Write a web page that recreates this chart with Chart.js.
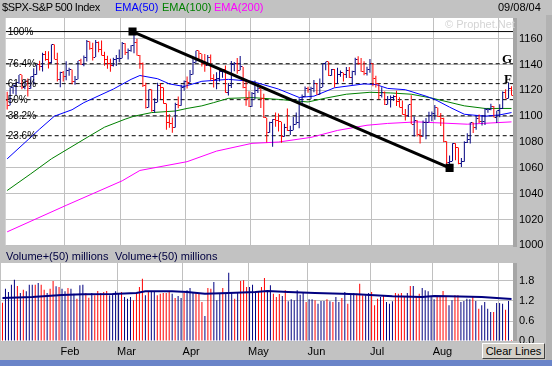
<!DOCTYPE html>
<html><head><meta charset="utf-8">
<script src="https://cdn.jsdelivr.net/npm/chart.js@4.4.1/dist/chart.umd.min.js"></script>
<style>
html,body{margin:0;padding:0}
body{width:552px;height:366px;background:#c2c2c2;position:relative;overflow:hidden;font-family:"Liberation Sans",Arial,sans-serif;font-size:11px}
canvas{position:absolute;left:0}
#pc{top:0}
#vc{top:250px}
.t{position:absolute;white-space:nowrap;line-height:14px;z-index:5}
.s{position:absolute;background:#a6a6a6;z-index:1}
#btn{position:absolute;left:482px;top:343px;width:61px;height:14px;border:1px solid;border-color:#fff #404040 #404040 #fff;background:#d4d0c8;text-align:center;line-height:14px;z-index:6;font-size:11px;color:#000}
#strip{position:absolute;left:0;top:360px;width:552px;height:6px;background:#6a84c8;z-index:6}
</style></head><body>
<div class="s" style="left:513px;top:18px;width:4px;height:229px"></div>
<div class="s" style="left:513px;top:263px;width:4px;height:78px"></div>
<div class="s" style="left:546px;top:15px;width:6px;height:345px;background:#b2b2b2"></div>
<canvas id="pc" width="552" height="258" style="z-index:2"></canvas>
<canvas id="vc" width="552" height="112" style="z-index:2"></canvas>
<div class="t" style="left:2px;top:0;letter-spacing:-0.4px">$SPX-S&amp;P 500 Index</div>
<div class="t" style="left:115px;top:0;color:#0000ff">EMA(50)</div>
<div class="t" style="left:162px;top:0;color:#008000">EMA(100)</div>
<div class="t" style="left:214px;top:0;color:#ff00ff">EMA(200)</div>
<div class="t" style="left:498px;top:0">09/08/04</div>
<div class="t" style="left:445px;top:17px;color:#d4d4d4">&copy; Prophet.Net</div>
<div class="t" style="left:6px;top:249px;color:#000040">Volume+(50) millions</div>
<div class="t" style="left:115px;top:249px;color:#000040">Volume+(50) millions</div>
<div id="btn">Clear Lines</div>
<div id="strip"></div>
<script>
// ---- data (trading-day index 0 = 2 Jan 2004 ... 171 = 8 Sep 2004) ----
const monthTicks = [19.5, 38.5, 60.5, 82.5, 102.5, 123.5, 144.5, 166.5];
const monthLabels = ['Feb','Mar','Apr','May','Jun','Jul','Aug','Sep'];
const priceTicks = [1000,1020,1040,1060,1080,1100,1120,1140,1160];
const volTicks = [0, 0.6, 1.2, 1.8];

const opens = [1111.9,1108.5,1122.2,1123.7,1126.3,1131.9,1121.9,1127.2,1121.2,1130.5,1132.1,1139.8,1138.8,1147.6,1143.9,1141.6,1155.4,1144.1,1128.5,1134.1,
1131.1,1135.3,1136.0,1126.5,1128.6,1142.8,1139.8,1145.5,1157.8,1152.1,1145.8,1157.0,1151.8,1147.1,1144.1,1141.0,1139.1,1143.7,1144.9,
1144.9,1156.0,1149.1,1151.0,1154.9,1156.9,1147.2,1140.6,1123.9,1106.8,1120.6,1104.5,1110.7,1123.8,1122.3,1109.8,1095.4,1094.0,1091.3,1109.2,1108.1,1122.5,1127.0,
1126.2,1132.2,1141.8,1150.6,1148.2,1140.5,1139.3,1145.2,1129.4,1128.2,1128.8,1134.6,1135.8,1118.2,1124.1,1139.9,1140.6,1135.5,1138.1,1122.4,1113.9,
1107.3,1117.5,1119.6,1121.5,1114.0,1098.7,1087.1,1095.5,1097.3,1096.4,1095.7,1084.1,1091.5,1088.7,1089.2,1093.6,1095.4,1113.1,1114.9,1121.3,
1120.7,1121.2,1125.0,1116.6,1122.5,1140.4,1142.2,1131.3,1136.5,1125.3,1132.0,1133.6,1132.1,1135.0,1130.3,1134.4,1144.1,1140.7,1134.4,1133.4,1136.2,
1140.8,1128.9,1125.4,1116.2,1118.3,1109.1,1112.8,1114.4,1115.1,1111.5,1106.7,1101.4,1100.9,1108.7,1093.9,1096.8,1086.2,1084.1,1094.8,1095.4,1100.4,
1101.7,1106.6,1099.7,1098.6,1080.7,1064.0,1065.2,1079.0,1075.8,1063.2,1064.8,1079.3,1081.7,1095.2,1091.2,1098.4,1095.7,1096.2,1105.0,1105.1,1107.8,1099.2,
1104.2,1105.9,1118.3,1113.6,1121.3];
const highs = [1118.9,1122.2,1124.5,1126.3,1131.9,1131.9,1127.9,1129.1,1130.7,1137.1,1139.8,1142.9,1149.2,1150.5,1150.3,1155.4,1155.4,1149.1,1134.4,1135.0,
1142.5,1137.4,1136.0,1131.2,1142.8,1144.5,1147.0,1158.9,1157.8,1156.9,1158.9,1157.8,1158.6,1149.8,1146.7,1144.5,1145.2,1147.4,1151.7,
1157.5,1156.5,1152.4,1154.9,1164.5,1159.9,1147.3,1141.5,1125.9,1120.6,1120.6,1113.8,1125.8,1125.5,1122.3,1109.8,1101.5,1098.9,1110.4,1115.3,1124.4,1127.6,1130.8,
1135.7,1144.8,1150.6,1150.6,1148.2,1148.1,1147.3,1147.8,1132.5,1134.1,1136.8,1136.2,1139.3,1125.7,1142.8,1141.9,1145.1,1146.6,1138.1,1128.8,1119.3,
1118.7,1127.7,1125.1,1121.5,1117.3,1098.7,1095.7,1097.6,1102.8,1102.1,1095.7,1094.1,1105.9,1092.6,1099.6,1102.8,1113.8,1116.7,1123.0,1122.7,
1122.7,1128.1,1125.3,1129.2,1140.5,1142.2,1142.2,1136.5,1136.5,1137.4,1135.3,1133.6,1138.0,1138.0,1135.1,1145.2,1146.3,1145.0,1142.6,1138.3,1144.2,
1140.8,1131.4,1125.4,1122.4,1119.1,1115.6,1116.1,1116.3,1119.6,1114.6,1112.2,1105.5,1108.9,1116.3,1099.7,1096.8,1089.8,1096.7,1098.6,1103.5,1103.7,
1108.6,1106.6,1102.5,1098.8,1080.7,1069.5,1079.0,1079.0,1075.8,1067.6,1080.7,1086.8,1095.2,1095.2,1100.3,1101.4,1100.9,1106.3,1106.3,1109.7,1107.8,1104.2,
1109.2,1119.1,1120.8,1126.0,1123.1];
const lows = [1105.1,1108.5,1117.4,1116.5,1124.9,1120.9,1120.9,1115.2,1121.2,1124.5,1132.1,1135.4,1134.6,1143.0,1136.9,1141.0,1144.1,1126.9,1122.4,1126.8,
1127.9,1131.3,1124.7,1124.4,1128.6,1139.8,1138.7,1142.3,1151.4,1143.2,1145.8,1149.5,1146.9,1139.0,1136.7,1134.4,1138.5,1138.8,1141.8,
1144.9,1147.3,1143.8,1149.8,1148.8,1146.9,1136.8,1122.5,1105.9,1106.8,1103.4,1102.6,1110.7,1113.3,1109.7,1089.5,1091.1,1087.2,1091.3,1106.1,1108.1,1119.7,1121.5,
1126.2,1132.2,1141.6,1143.3,1138.4,1134.4,1139.3,1127.7,1122.2,1120.8,1126.9,1129.8,1118.1,1116.0,1121.9,1134.8,1132.9,1135.5,1121.7,1108.0,1107.2,
1107.3,1112.9,1117.9,1106.3,1098.6,1079.6,1087.1,1076.3,1091.8,1088.2,1079.4,1084.1,1088.5,1085.4,1089.2,1093.6,1090.7,1109.9,1114.9,1118.1,
1113.3,1118.6,1116.6,1116.6,1122.5,1135.5,1131.2,1131.3,1122.2,1125.3,1130.5,1126.9,1129.6,1129.6,1124.4,1131.7,1139.8,1134.4,1131.7,1131.5,1133.6,
1123.1,1122.2,1113.2,1114.5,1108.7,1109.1,1106.7,1112.0,1107.8,1106.7,1101.1,1096.6,1099.3,1093.9,1084.2,1084.3,1078.8,1084.1,1082.2,1095.4,1096.0,
1097.3,1099.3,1092.4,1079.9,1062.2,1063.0,1065.2,1065.9,1062.8,1060.7,1064.8,1079.3,1078.9,1086.9,1089.6,1094.7,1092.8,1093.2,1102.6,1104.6,1099.2,1094.7,
1099.2,1105.6,1113.6,1113.6,1116.0];
const closes = [1108.5,1122.2,1123.7,1126.3,1131.9,1121.9,1127.2,1121.2,1130.5,1132.1,1139.8,1138.8,1147.6,1143.9,1141.6,1155.4,1144.1,1128.5,1134.1,1131.1,
1135.3,1136.0,1126.5,1128.6,1142.8,1139.8,1145.5,1157.8,1152.1,1145.8,1157.0,1151.8,1147.1,1144.1,1141.0,1139.1,1143.7,1144.9,1144.9,
1156.0,1149.1,1151.0,1154.9,1156.9,1147.2,1140.6,1123.9,1106.8,1120.6,1104.5,1110.7,1123.8,1122.3,1109.8,1095.4,1094.0,1091.3,1109.2,1108.1,1122.5,1127.0,1126.2,
1132.2,1141.8,1150.6,1148.2,1140.5,1139.3,1145.2,1129.4,1128.2,1128.8,1134.6,1135.8,1118.2,1124.1,1139.9,1140.6,1135.5,1138.1,1122.4,1113.9,1107.3,
1117.5,1119.6,1121.5,1114.0,1098.7,1087.1,1095.5,1097.3,1096.4,1095.7,1084.1,1091.5,1088.7,1089.2,1093.6,1095.4,1113.1,1114.9,1121.3,1120.7,
1121.2,1125.0,1116.6,1122.5,1140.4,1142.2,1131.3,1136.5,1125.3,1132.0,1133.6,1132.1,1135.0,1130.3,1134.4,1144.1,1140.7,1134.4,1133.4,1136.2,1140.8,
1128.9,1125.4,1116.2,1118.3,1109.1,1112.8,1114.4,1115.1,1111.5,1106.7,1101.4,1100.9,1108.7,1093.9,1096.8,1086.2,1084.1,1094.8,1095.4,1100.4,1101.7,
1106.6,1099.7,1098.6,1080.7,1064.0,1065.2,1079.0,1075.8,1063.2,1064.8,1079.3,1081.7,1095.2,1091.2,1098.4,1095.7,1096.2,1105.0,1105.1,1107.8,1099.2,1104.2,
1105.9,1118.3,1113.6,1121.3,1116.3];
const volumes = [1.15,1.57,1.47,1.69,1.84,1.65,1.44,1.54,1.49,1.69,1.69,1.69,1.74,1.69,1.54,1.44,1.57,1.80,1.64,1.62,
1.57,1.49,1.59,1.57,1.42,1.27,1.67,1.69,1.44,1.30,1.44,1.37,1.50,1.44,1.47,1.50,1.37,1.42,1.49,
1.44,1.47,1.32,1.27,1.32,1.22,1.44,1.62,1.87,1.37,1.47,1.47,1.47,1.37,1.42,1.44,1.44,1.49,1.42,
1.29,1.35,1.29,1.44,1.52,1.59,1.44,1.44,1.44,1.17,0.75,1.59,1.57,1.77,1.22,1.42,1.59,1.45,2.05,
1.45,1.27,1.45,1.80,1.82,1.62,1.62,1.69,1.49,
1.49,1.62,1.89,1.49,1.67,1.42,1.32,1.41,1.35,1.52,1.19,1.25,1.22,1.52,1.39,1.45,1.17,1.25,1.25,1.22,
1.12,1.20,1.20,1.25,1.19,1.17,1.32,1.17,1.29,1.47,1.12,1.39,1.44,1.42,1.72,1.37,1.37,1.44,1.47,1.07,
1.27,1.32,1.37,1.17,1.12,1.19,1.44,1.42,1.44,1.32,1.44,1.65,1.65,1.35,1.42,1.59,1.52,1.49,1.34,1.25,
1.35,1.35,1.50,1.32,1.07,1.22,1.37,1.37,1.17,1.20,1.27,1.25,1.32,1.20,0.97,1.07,1.17,0.97,0.87,0.87,
1.14,1.14,1.12,0.94,1.20,0.03];

const ema50Idx = [0,11,16,22,26,36,42,45,51,55,60,66,75,83,92,99,104,111,121,125,129,135,142,145,150,155,162,167,171];
const ema50Val = [1067,1090,1100,1105,1110.5,1121,1128.5,1131.5,1129,1125,1123,1127,1128.5,1127,1121,1114.5,1115.5,1122,1125,1124.5,1121.5,1120.5,1115.5,1113,1107,1101.5,1100,1101,1102.8];
const ema100Idx = [0,8,15,28,33,40,43,49,57,61,66,70,75,83,92,102,108,115,123,130,137,144,155,162,171];
const ema100Val = [1042.5,1055.4,1067,1084.8,1091.5,1097.7,1100,1102.8,1104,1106,1108,1110.5,1113.8,1114.4,1113,1111,1114,1117,1118.5,1118,1117,1114,1108,1106,1106];
const ema200Idx = [0,20,39,45,61,71,83,92,103,112,122,129,139,156,171];
const ema200Val = [1010.5,1031,1050,1058,1064.8,1073,1079,1080,1083.6,1089,1093,1094.4,1095.6,1093.8,1095.6];
const avgVolIdx = [0,10,15,20,27,37,45,48,57,62,68,76,85,89,96,105,114,119,125,131,141,145,150,161,166,171];
const avgVolVal = [1.29,1.32,1.35,1.38,1.40,1.41,1.44,1.49,1.49,1.47,1.42,1.44,1.47,1.50,1.47,1.44,1.42,1.40,1.37,1.34,1.32,1.35,1.34,1.32,1.29,1.26];

const fibLevels = [1165.5,1140.6,1125.2,1112.8,1100.3,1084.9];
const fibLabels = ['100%','76.4%','61.8%','50%','38.2%','23.6%'];
const fibLetters = ['','G','F','','',''];
const trendIdx = [42.5,150];
const trendVal = [1165.5,1060];

// ---- build ----
const N = closes.length;
const RED = '#ff0000', NAVY = '#000080';
const barCol = closes.map((c,i)=> c >= opens[i] ? NAVY : RED);
function tick(color, side){ const c=document.createElement('canvas'); c.width=3; c.height=1; const x=c.getContext('2d'); x.fillStyle=color; x.fillRect(side<0?0:2,0,1,1); return c; }
const tk = {L:{[RED]:tick(RED,-1),[NAVY]:tick(NAVY,-1)}, R:{[RED]:tick(RED,1),[NAVY]:tick(NAVY,1)}};
const pts = (idx, val) => idx.map((x,k)=>({x, y:val[k]}));
const FONT = '"Liberation Sans", Arial, sans-serif';

function xCfg(show){
  return {type:'linear', min:-0.5, max:N-0.5, offset:false,
    afterBuildTicks: s => { s.ticks = monthTicks.map(v=>({value:v})); },
    grid:{color:'#c0c0c0', drawTicks:false, offset:false},
    border:{display:false},
    ticks:{display:show, autoSkip:false, maxRotation:0, minRotation:0, align:'start', padding:4, color:'#000',
      font:{size:11, family:FONT}, callback:(v,i)=>monthLabels[i]},
    afterFit: s => { s.height = show ? 19 : 0; }};
}
const bg = {id:'bg', beforeDraw(c){const a=c.chartArea,x=c.ctx; x.save(); x.fillStyle='#fff'; x.fillRect(a.left,a.top,a.right-a.left,a.bottom-a.top); x.restore();}};
const fibText = {id:'fibText', afterDatasetsDraw(c){
  const ctx=c.ctx, ys=c.scales.y, a=c.chartArea; ctx.save(); ctx.fillStyle='#000';
  fibLevels.forEach((v,k)=>{ const py=ys.getPixelForValue(v);
    ctx.font='10px '+FONT; ctx.textAlign='left'; ctx.textBaseline='middle'; ctx.fillText(fibLabels[k], a.left+2, py+0.5);
    if(fibLetters[k]){ ctx.font='bold 13px "Liberation Serif", serif'; ctx.textAlign='right'; ctx.textBaseline='alphabetic'; ctx.fillText(fibLetters[k], a.right-1, py-1); }
  }); ctx.restore(); }};

const common = {responsive:false, animation:false, events:[], plugins:{legend:{display:false}, tooltip:{enabled:false}}};

new Chart(document.getElementById('pc'), {
  type:'bar',
  data:{datasets:[
    {type:'line', order:0, data:pts(trendIdx,trendVal), borderColor:'#000', borderWidth:3, pointStyle:'rect', pointRadius:5.7, pointBackgroundColor:'#000', pointBorderWidth:0},
    {type:'line', order:1, data:opens.map((o,i)=>({x:i,y:o})), showLine:false, pointRadius:1, pointStyle:barCol.map(c=>tk.L[c])},
    {type:'line', order:1, data:closes.map((o,i)=>({x:i,y:o})), showLine:false, pointRadius:1, pointStyle:barCol.map(c=>tk.R[c])},
    {type:'bar', order:2, data:lows.map((l,i)=>({x:i,y:[l,highs[i]]})), backgroundColor:barCol, barThickness:1, borderWidth:0, inflateAmount:0},
    {type:'line', order:3, data:pts(ema50Idx,ema50Val), borderColor:'#0000ff', borderWidth:1, pointRadius:0, tension:0},
    {type:'line', order:3, data:pts(ema100Idx,ema100Val), borderColor:'#008000', borderWidth:1, pointRadius:0},
    {type:'line', order:3, data:pts(ema200Idx,ema200Val), borderColor:'#ff00ff', borderWidth:1, pointRadius:0},
    ...fibLevels.map((v,k)=>({type:'line', order:4, data:[{x:-0.5,y:v},{x:N-0.5,y:v}], borderColor:'#000', borderWidth:1, borderDash:k===0?[]:[4,3], pointRadius:0}))
  ]},
  options:{...common, layout:{padding:{left:1,right:0,top:18,bottom:11}},
    scales:{x:xCfg(false),
      y:{position:'right', min:1000, max:1176, afterBuildTicks:s=>{s.ticks=priceTicks.map(v=>({value:v}));},
         grid:{color:'#c0c0c0', drawTicks:false}, border:{display:false},
         ticks:{padding:6, color:'#000', font:{size:11,family:FONT}, callback:v=>String(v)},
         afterFit:s=>{s.width=39;}}}},
  plugins:[bg, fibText]
});

new Chart(document.getElementById('vc'), {
  type:'bar',
  data:{datasets:[
    {type:'line', order:0, data:pts(avgVolIdx,avgVolVal), borderColor:'#000080', borderWidth:2, pointRadius:0},
    {type:'bar', order:1, data:volumes.map((v,i)=>({x:i,y:v})), backgroundColor:barCol, barThickness:1, borderWidth:0, inflateAmount:0}
  ]},
  options:{...common, layout:{padding:{left:1,right:0,top:13,bottom:2}},
    scales:{x:xCfg(true),
      y:{position:'right', min:0, max:2.34, afterBuildTicks:s=>{s.ticks=volTicks.map(v=>({value:v}));},
         grid:{color:'#c0c0c0', drawTicks:false}, border:{display:false},
         ticks:{padding:6, color:'#000', font:{size:11,family:FONT}, callback:v=>v.toFixed(1)},
         afterFit:s=>{s.width=39;}}}},
  plugins:[bg]
});
</script>
</body></html>
